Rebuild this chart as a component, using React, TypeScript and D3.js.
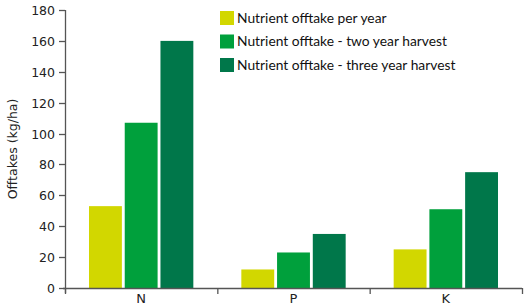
import React from 'react';
import { scaleBand, scaleLinear } from 'd3';

const categories = ['N', 'P', 'K'];
const series = [
  'Nutrient offtake per year',
  'Nutrient offtake - two year harvest',
  'Nutrient offtake - three year harvest',
];
const perYear = [53, 12, 25];
const twoYear = [107, 23, 51];
const threeYear = [160, 35, 75];
const yTicks = [0, 20, 40, 60, 80, 100, 120, 140, 160, 180];
const colors = ['#d2d700', '#00a03c', '#00774a'];

const App = () => {
  const values = [perYear, twoYear, threeYear];
  const width = 526;
  const height = 307;
  const axisColor = '#555';

  // scales
  const xScale = scaleBand().domain(categories).range([65, 522]);
  const inner = scaleBand()
    .domain(series)
    .range([24, xScale.bandwidth() - 24])
    .paddingInner(0.08);
  const yScale = scaleLinear().domain([0, 180]).range([288, 10]);

  const edges = [...categories.map(c => xScale(c)), xScale.range()[1]];

  return (
    <svg width={width} height={height} style={{ position: 'absolute', left: 0, top: 0 }}>
      {/* bars */}
      {categories.map((cat, ci) =>
        series.map((s, si) => (
          <rect
            key={cat + s}
            x={xScale(cat) + inner(s)}
            y={yScale(values[si][ci])}
            width={inner.bandwidth()}
            height={yScale(0) - yScale(values[si][ci])}
            fill={colors[si]}
          />
        ))
      )}

      {/* y axis */}
      <line x1={65.5} x2={65.5} y1={yScale(180)} y2={yScale(0) + 5} stroke={axisColor} strokeWidth={1.3} />
      {yTicks.map(t => (
        <g key={t} transform={`translate(0,${Math.round(yScale(t)) + 0.5})`}>
          <line x1={59} x2={65} stroke={axisColor} strokeWidth={1.3} />
          <text x={55} dy="0.35em" textAnchor="end" fontFamily="DejaVu Sans" fontSize={12.5} fill="#222">
            {t}
          </text>
        </g>
      ))}
      <text
        transform={`translate(17,${yScale(90)}) rotate(-90)`}
        textAnchor="middle"
        fontFamily="DejaVu Sans"
        fontSize={12.5}
        fill="#222"
      >
        Offtakes (kg/ha)
      </text>

      {/* x axis */}
      <line x1={63} x2={522} y1={288.5} y2={288.5} stroke={axisColor} strokeWidth={1.3} />
      {edges.map((e, i) => (
        <line key={i} x1={e + 0.5} x2={e + 0.5} y1={288} y2={294} stroke={axisColor} strokeWidth={1.3} />
      ))}
      {categories.map(cat => (
        <text
          key={cat}
          x={xScale(cat) + xScale.bandwidth() / 2}
          y={303}
          textAnchor="middle"
          fontFamily="DejaVu Sans"
          fontSize={13}
          fill="#222"
        >
          {cat}
        </text>
      ))}

      {/* legend */}
      {series.map((s, i) => (
        <g key={s} transform={`translate(220,${11 + i * 23.5})`}>
          <rect width={14} height={14} fill={colors[i]} />
          <text x={17} y={7} dy="0.35em" fontFamily="Lato" fontSize={13.8} fill="#111">
            {s}
          </text>
        </g>
      ))}
    </svg>
  );
};

export default App;
